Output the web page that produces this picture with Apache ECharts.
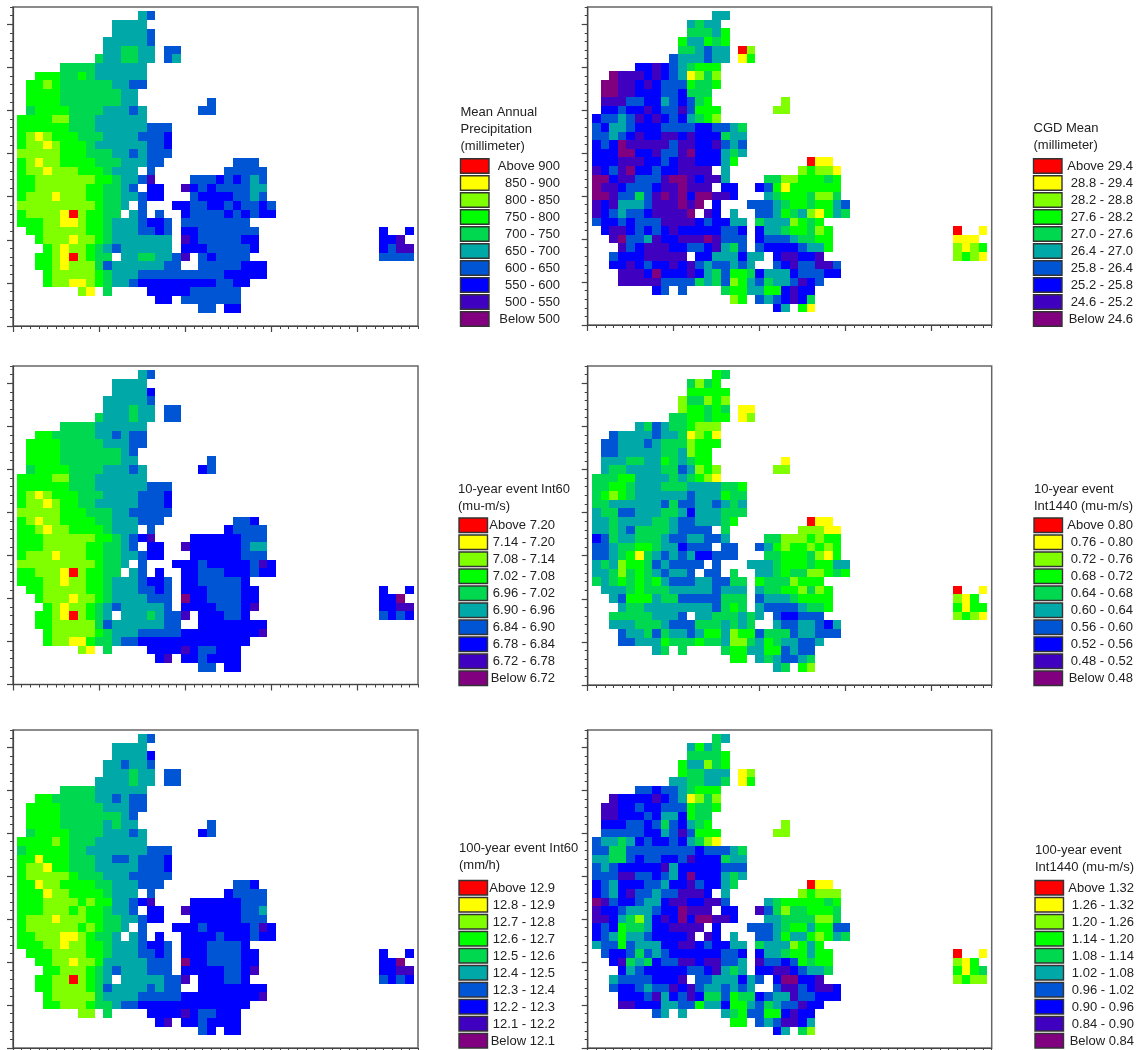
<!DOCTYPE html>
<html><head><meta charset="utf-8">
<style>html,body{margin:0;padding:0;background:#fff}#c{width:1142px;height:1050px}</style>
<script src="https://cdn.jsdelivr.net/npm/echarts@6/dist/echarts.min.js"></script>
</head><body><div id="c"></div>
<script>
// class codes: 0 lowest ... 9 highest; rows run top to bottom, "col:codes|col:codes"
const palette=['#800080','#4000c0','#0000ff','#0055d4','#00a8a8','#00d850','#00ff00','#80ff00','#ffff00','#ff0000'];
const meanPrecip=["15:43","12:4444","12:44443","11:444443","11:445544|18:33","10:5445544|18:34","6:5555444444","3:6665565444444","2:66765555554433","2:6666555555544","2:6666555555544|23:3","2:56666555544434|22:33","1:666677555444444","1:666666555444444333","1:678766655544443332","1:677876665444444332","1:777776665554434333","1:67877666655544433|26:333","1:67787776665444|16:3|25:33333","1:6677777776654431|21:333232343","1:66777777665543|16:22|20:1232333344","1:6 777 8 777 66 55 44 3 22|21:3 2222 33 4 3","1:777777777 6 55 4|15:3|19:22 33 22 3 2 33 2 3","1:6 7777 8 9 7 66 55|14:4 3|17:3|20:2 3333 2 3 2 3 22","1:666 77 88 7 66 5 444 3 22 3|20:33333333","2:66 77777 66 5 444 33 2 3|20:22 3333333|43:2|46:2","3:6 777 8 77 6 5 4444444|20:1 2 33333 22|43:221","4:6 7 8 77 6 5 4 3 444444|20:222 33333 2|43:2311","3:66 7 8 9 7 6 55|13:44 55 44 3|20:1|22:3 2 3333|43:3333","3:66 7 8 777 5 3 444444 33|22:33333 222","4:6 77777 6 5 444 3333333333 22222","4:6 77 88 7 6 5 44 3 222222222 33 22","8:7 8|11:5|16:22222 333333","17:22|20:3333333","22:33|25:22"];
const cgdMean=["15:44","12:4 5 44","12:555 4 6","11:6 44 6 5 6","11:55 4 3 44|18:9 7","10:3 444 3 44|18:8 6","6:22 1 2 3 4 5 666","3:0 111 2 1 2 3 4 8 7 5 7","2:00 11 2 1 2 333 6 55 6","2:00 11 222 33 2 555","2:111 33 22 4 3 2 3 5 6|23:7","2:22 3 22 1 2 33 1 3 666|22:77","1:2 33 4 3 1 2 1 2 3 2 4 5 6 7","1:3 2 44 3 222 3333 22 33 4 5","1:33 4 3 2 1 22 11 2 1 222 5 44","1:2 3 2 0 11111 3 11 22 1 3 4 3","1:222 00 22 1 33 1 0 222 4 5 4","1:222 111 22 3 2 11 222 4 6|26:9 88","1:1 2 3 1 0 22 3 22 1111|16:4|25:7 6 77 8","1:00 2 11 333 1 00 1 2 11 4|21:55 77 666 5 6","1:0 11 2 333 2 11 0 111|16:22|20:2 3 6 8 666666","1:00 1 33 5 3 1 0 1 0 2 00 11 2|21:4 5 666 5 77 5","1:1 2 1 444 3 111 0 1 0|15:2|19:333 4 5 66 5 66 4 3","1:1 2 3 4 33 2 1111 0|14:1 2|17:4|20:33 4 6 5 4 7 8 6 4 5","1:3 22 3 2 333 1111 2 3 22 44|20:5 444 7 6 5 6","2:2 11 2 3 2 3 2 1 22222 33 2|20:2 44 5 66 5 7 6|43:9|46:8","3:1 0 33 4 1 22 111 0 1 333|20:2 333 4 55 66|43:888","4:1 3 2 111 22 33 2 1 4 5 3|20:3 2222 3 44 6|43:7 8 7 6","3:3 222 11111|13:22 444 2 44|22:2 11 22 1|43:7 6 7 8","3:22 1 2 3 22 1 2 1 3 4 33 4 3 4|22:3 2 1 33 11 3","4:111 2 0 222 1 2 4 5 3 66 5 2 444 2 333 22","4:11111 3333 5 4 5 3 7 6 4 3 5 44 3 1 2 3","8:2 3|11:3|16:5 66 44 66 2 1 22","17:7 6|20:3 4 3 2 1 2 5","22:2 4|25:6 8"];
const int60y10=["15:4 3","12:4444","12:4444 2","11:44444 3","11:444 5 44|18:33","10:5 444 5 44|18:33","6:5555 444444","3:66 5 5555 44 3 4 33","2:6666 55555 444 33","2:6666 5555555 4 3","2:6666 5555555 44|23:3","2:5 6666 5555 444 3 4|22:2 3","1:6666 77 555 444444","1:666666 555 444444 333","1:6 7 8 7 666 555 4444 333 2","1:6 77 8 7 66 55 44444 333 2","1:77777 666 555 44 33333","1:6 7 8 77 6666 55 444 333|26:33 2","1:66 7 8 77 6666 5 444|16:3|25:2 3333","1:666 777777 66 5 4 3 2 1|21:222222 333","1:666 77777 66 55 4 3|16:22|20:1 222222 3 44","1:6 777 8 777 66 55 44 3 22|21:222222 333","1:777777777 6 55 4|15:3|19:222 3 22222 3 1 2","1:66 777 8 9 7 66 55|14:4 3|17:2|20:22 333 222 3 22","1:666 77 8 77 66 5 444 3 22 3|20:22 33333 2","2:66 77777 66 5 444 33 2 3|20:222 3333 22|43:2|46:2","3:6 777 8 77 6 5 4444 333|20:0 22 3333 22|43:22 0","4:6 7 8 77 6 5 4 3 44444 3|20:2222 333 2 1|43:22 11","3:66 7 8 9 7 6 5 4|13:444 5 4 33 1|22:222 33 2|43:3 2 3 2","3:66 77777 5 3 444444 33|22:22222222","4:6 77777 6 5 444 33333 222222222 1","4:6 77 88 6 55 4 33 2222222222222","8:7 8|11:5|16:2222 1 2 33 222","17:2 1|20:22 3 2222","22:33|25:22"];
const int1440y10=["15:6 5","12:5 7 5 6","12:66666","11:7 55 7 6 7","11:7 66 5 6 5|18:88","10:55 66 5 66|18:8 7","6:4 5 3 4 55 6 777","3:3 4444 3 44 5 8 7 6 8","2:33 44 4 3 4 555 7 666","2:33 44444 55 4 7 66","2:444 55 44 6 5 4 5 66|23:8","2:4 55 4444 55 3 4 7 6 7|22:77","1:555 66 4444 5 4 5 6 7 8","1:55 66 5 444 555 4444 55 6","1:5 6 7 6 5 444444 3 444 6 55","1:55 444444 3 5 33 44 3 4 5 4","1:4 55 33 444 55 4 2 444 555","1:44 5 4444 55 4 33 444 5 6|26:9 88","1:44 5 4 3 5555 4 3333|16:5|25:777 88","1:2 3 5 44 555 4 33 44 33 4|21:55 777 6 7 66","1:33 4 55 66 5 44 2 333|16:33|20:3 4 6 7 66 7 6 7 6","1:33 4 5 6 8 5 4 3 4 3 4 22 333|21:55 666 5 7 8 6","1:4 5 4 7 66 5 3 4 3333|15:3|19:444 5 666 5 66 44","1:44 5 7 5 6 5 4 3 44 3|14:33|17:5|20:44 5 6 55 77 6 5 6","1:5 4 5 6 5 6 5 6 4 333 44 33 55|20:6 555 7 666","2:444 5 6 555 44444 3 444|20:4 55 66 7 5 7 6|43:9|46:8","3:4 3 666 4 55 33333 555|20:3 444 5 6666|43:7 8 6","4:4 55 44444444 3 5 6 5|20:4 3333 4 55 6|43:6 8 66","3:55555 444 3|13:44 555 4 5 4|22:3 22 333|43:7 6 7 8","3:444 555 4 333 555 4 5 4 5|22:4 33 44 3 2 4","4:3 44 5 3 5 44 3 4 66 4 7 66 3 555 3 44 333","4:33 444 6 555 6 55 4 77 5 4 6 5 44 33 4","8:4 5|11:5|16:5 66 44 66 3 4 33","17:66|20:4 5 4 33 4 5","22:4 5|25:6 7"];
const int60y100=["15:4 3","12:4444","12:4444 2","11:44 3 44 3","11:444 5 44|18:33","10:4444 5 44|18:33","6:5555 444444","3:66 55555 44 3 4 33","2:6666 55555 444 33","2:6666 5555555 4 3","2:6666 55555 4 5 44|23:3","2:5 6666 5555 444 3 4|22:2 3","1:6666 7 6 555 444444","1:5 66666 55 4444444 333","1:66 8 666 555 44 33 4 333 2","1:6 77 8 66 555 44444 333 2","1:6 77777 6 555 444 33333","1:66 8 77 6666 55 444 333|26:33 2","1:666 8 77 6666 5 444|16:3|25:2 3333","1:666 7777 6 7 66 44 3 2 1|21:222222 333","1:666 777 6 7 66 5 44 3|16:22|20:1 222222 33 4","1:6 777 8 777 66 55 44 3 22|21:222222 333","1:6 777777 6 7 6 55 4|15:3|19:222 3 22222 3 1 2","1:66 777 88 7 6 55 4|14:4 3|17:2|20:2222 3 222 3 22","1:666 77 8 77 66 5 444 3 22 3|20:222 3333 2","2:666 7777 66 5 444 33 2 3|20:222 3333 22|43:2|46:2","3:66 77 8 77 6 44444 333|20:0 22 3333 22|43:22 0","4:66 777 6 5 4 3 444 333|20:22222 33 2 1|43:22 11","3:66 77 9 7 6 5 4|13:44444 33 1|22:222 33 2|43:3 2 3 2","3:66 7777 6 5 3 4444 3 4 33|22:22222222","4:6 77777 5 4444 33333 222222222 1","4:66 777 6 55 4 33 2222222222222","8:77|11:5|16:2222 1 2 33 222","17:2 1|20:22 3 2222","22:3 2|25:22"];
const int1440y100=["15:5 4","12:4 6 4 5","12:5555 6","11:6 44 7 5 6","11:6 55 444|18:8 7","10:44 55 44 5|18:8 6","6:33 2 33 4 5 666","3:1 2222 1 2 3 4 8 7 5 7","2:11 22 3 22 333 6 55 6","2:11 222 3 2 44 2 6 55","2:222 33 2 3 5 3 2 4 5 6|23:7","2:33333 22 4 3 1 3 666|22:77","1:3 44 5 4 2 3 22 3 2 4 5 7 8","1:33 55 33333333 2 333 4 5","1:44 55 3 2 33 22 3 1 222 5 44","1:3 4 3 22222 1 4 22222 333","1:333 11 33 2 3 4 2 0 222 4 5 4","1:2 3 4 222 33 4 22 1 3 22 4 5|26:9 88","1:2 3 4 2 1 33 4 33 111 2|16:4|25:7 6 777","1:0 1 3 22 3 44 2 11 22 11 3|21:4 5 66666 5 6","1:1 22 3 444 3 22 0 111|16:22|20:1 3 5 7 55 666 5","1:11 2 4 5 7 4 2 1 2 0 2 00 11 2|21:44 5555 77 5","1:2 3 2 6 55 4 22 1111|15:2|19:333 4 5 66 4 66 33","1:2 3 4 6 44 3 2222 1|14:1 2|17:4|20:33 4 6 44 6 7 6 4 5","1:4 33 6 3 444 22 11 2 3 22 44|20:5 444 7 6 4 6","2:3 22 3 5 3 4 3 222222 33 2|20:2 44 5 66 4 66|43:9|46:8","3:2 1 5 4 5 2 33 11 2 11 33 4|20:1 33 2 3 6 5 66|43:7 8 6","4:2 4 3 22222 33 2 1 4 5 4|20:22 11 2 3 44 5|43:6 8 6 5","3:4 3333 222 1|13:33 444 2 4 3|22:2 00 22 1|43:7 6 77","3:3 22 3 4 33 1 2 1 3 44 3 4 3 4|22:3 11 3 2 11 2","4:222 3 1 4 2 3 1 2 55 3 6 55 2 3 44 1 33 222","4:11 222 44 33 6 44 2 66 4 3 5 4 33 1 22","8:3 4|11:4|16:4 5 6 33 66 2 1 22","17:66|20:3 4 3 11 2 4","22:2 4|25:5 7"];

const legendTitles=[["Mean Annual","Precipitation","(millimeter)"],["CGD Mean","(millimeter)"],["10-year event Int60","(mu-m/s)"],["10-year event","Int1440 (mu-m/s)"],["100-year event Int60","(mm/h)"],["100-year event","Int1440 (mu-m/s)"]];
const breaks1=["Above 900","850 - 900","800 - 850","750 - 800","700 - 750","650 - 700","600 - 650","550 - 600","500 - 550","Below 500"];
const breaks2=["Above 29.4","28.8 - 29.4","28.2 - 28.8","27.6 - 28.2","27.0 - 27.6","26.4 - 27.0","25.8 - 26.4","25.2 - 25.8","24.6 - 25.2","Below 24.6"];
const breaks3=["Above 7.20","7.14 - 7.20","7.08 - 7.14","7.02 - 7.08","6.96 - 7.02","6.90 - 6.96","6.84 - 6.90","6.78 - 6.84","6.72 - 6.78","Below 6.72"];
const breaks4=["Above 0.80","0.76 - 0.80","0.72 - 0.76","0.68 - 0.72","0.64 - 0.68","0.60 - 0.64","0.56 - 0.60","0.52 - 0.56","0.48 - 0.52","Below 0.48"];
const breaks5=["Above 12.9","12.8 - 12.9","12.7 - 12.8","12.6 - 12.7","12.5 - 12.6","12.4 - 12.5","12.3 - 12.4","12.2 - 12.3","12.1 - 12.2","Below 12.1"];
const breaks6=["Above 1.32","1.26 - 1.32","1.20 - 1.26","1.14 - 1.20","1.08 - 1.14","1.02 - 1.08","0.96 - 1.02","0.90 - 0.96","0.84 - 0.90","Below 0.84"];
const xLongTicks=[0,10,20,30,40];
const yLongTicks=[0,5,10,15,20,25,30,35];

const panels=[
 {rows:meanPrecip,breaks:breaks1,g:[13,7,405,319],lg:{x:460.5,y:158.7,r:560,tx:460.5,ty:113}},
 {rows:cgdMean,breaks:breaks2,g:[587.7,7,404,318],lg:{x:1033.5,y:158.7,r:1133,tx:1033.5,ty:129.5}},
 {rows:int60y10,breaks:breaks3,g:[13,366,405,318.5],lg:{x:459,y:518,r:555,tx:458,ty:490}},
 {rows:int1440y10,breaks:breaks4,g:[587.7,366,404,319],lg:{x:1034,y:518,r:1133,tx:1034,ty:490}},
 {rows:int60y100,breaks:breaks5,g:[13,730,405,318],lg:{x:459,y:880.5,r:555,tx:459,ty:849}},
 {rows:int1440y100,breaks:breaks6,g:[587.7,730,404,318],lg:{x:1035,y:880.5,r:1134,tx:1035,ty:851}}
];
const TOP=36;
function parse(rows){
 const out=[];
 rows.forEach((row,r)=>row.split('|').forEach(seg=>{
  const [c,codes]=seg.split(':');
  codes.replace(/\s/g,'').split('').forEach((k,i)=>out.push([+c+i,TOP-r,+k]));
 }));
 return out;
}
const line={lineStyle:{color:'#444',width:1.2}};
const grid=[],xAxis=[],yAxis=[],series=[],graphic=[];
panels.forEach((p,i)=>{
 grid.push({left:p.g[0],top:p.g[1],width:p.g[2],height:p.g[3],show:true,borderColor:'#666',borderWidth:1.5,backgroundColor:'#fff'});
 const base={gridIndex:i,type:'value',min:0,splitLine:{show:false},axisLabel:{show:false}};
 xAxis.push({...base,position:'bottom',max:47,interval:1,axisLine:{show:true,...line},axisTick:{show:true,length:3,lineStyle:{color:'#444',width:1}}});
 xAxis.push({...base,position:'bottom',max:47,axisLine:{show:false},axisTick:{show:true,length:6,customValues:xLongTicks,lineStyle:{color:'#444',width:1.2}}});
 yAxis.push({...base,position:'left',max:37,interval:1,axisLine:{show:true,...line},axisTick:{show:true,length:3,lineStyle:{color:'#444',width:1}}});
 yAxis.push({...base,position:'left',max:37,axisLine:{show:false},axisTick:{show:true,length:6,customValues:yLongTicks,lineStyle:{color:'#444',width:1.2}}});
 series.push({type:'custom',xAxisIndex:i*2,yAxisIndex:i*2,clip:true,silent:true,animation:false,
  data:parse(p.rows),encode:{x:0,y:1},
  renderItem:(params,api)=>{
   const a=api.coord([api.value(0)-0.5,api.value(1)+0.5]);
   const b=api.coord([api.value(0)+0.5,api.value(1)-0.5]);
   const x0=Math.round(a[0]),y0=Math.round(a[1]);
   return {type:'rect',shape:{x:x0,y:y0,width:Math.round(b[0])-x0,height:Math.round(b[1])-y0},style:{fill:palette[api.value(2)]}};
  }});
 const lg=p.lg,font='13px "Liberation Sans",Arial,sans-serif';
 legendTitles[i].forEach((t,k)=>graphic.push({type:'text',left:lg.tx,top:lg.ty+k*17-7.5,silent:true,style:{text:t,font,fill:'#222'}}));
 p.breaks.forEach((b,k)=>{
  const y=lg.y+k*17;
  graphic.push({type:'rect',x:lg.x,y:y,shape:{width:28.5,height:14.5},silent:true,style:{fill:palette[9-k],stroke:'#333',lineWidth:1.4}});
  graphic.push({type:'text',x:lg.r,y:y+7.5,silent:true,style:{text:b,font,fill:'#222',align:'right',verticalAlign:'middle'}});
 });
});
const chart=echarts.init(document.getElementById('c'),null,{renderer:'canvas'});
chart.setOption({animation:false,backgroundColor:'#fff',grid,xAxis,yAxis,series,graphic:{elements:graphic}});
</script></body></html>
